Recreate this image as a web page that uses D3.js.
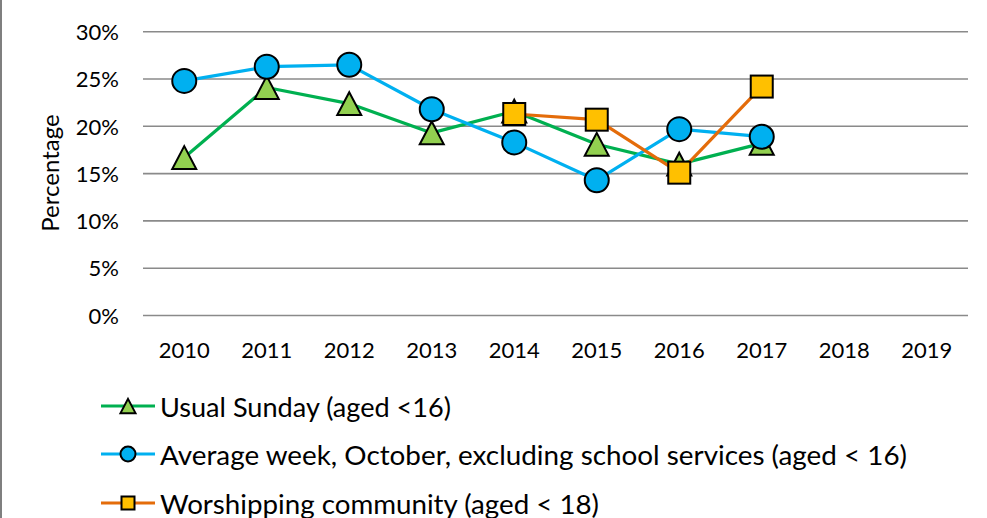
<!DOCTYPE html>
<html>
<head>
<meta charset="utf-8">
<script src="https://cdn.jsdelivr.net/npm/d3@7"></script>
<style>
  html, body { margin: 0; padding: 0; background: #fff; }
  svg { display: block; }
  text { font-family: "Lato", "Open Sans", sans-serif; fill: #000; }
</style>
</head>
<body>
<svg id="chart" width="987" height="518"></svg>
<script>
// Share of attendance made up of children/young people, by year
const years = ["2010", "2011", "2012", "2013", "2014", "2015", "2016", "2017", "2018", "2019"];
const usualSunday = [16.7, 24.1, 22.4, 19.3, 21.6, 18.1, 16.0, 18.2, null, null];
const averageWeek = [24.8, 26.3, 26.5, 21.8, 18.3, 14.3, 19.7, 18.9, null, null];
const worshipping = [null, null, null, null, 21.3, 20.7, 15.1, 24.2, null, null];
const yTicks = [0, 5, 10, 15, 20, 25, 30];

const seriesNames = [
  "Usual Sunday (aged <16)",
  "Average week, October, excluding school services (aged < 16)",
  "Worshipping community (aged < 18)"
];

const series = [
  { name: seriesNames[0], values: usualSunday, line: "#00B050", fill: "#92D050", shape: "triangle", textLen: 291 },
  { name: seriesNames[1], values: averageWeek, line: "#00B0F0", fill: "#00B0F0", shape: "circle", textLen: 747 },
  { name: seriesNames[2], values: worshipping, line: "#E46C0A", fill: "#FFC000", shape: "square", textLen: 439 }
];

const svg = d3.select("#chart");
const plot = { left: 143, right: 968, top: 31.7, bottom: 315.5 };

const x = d3.scaleBand().domain(years).range([plot.left, plot.right]);
const y = d3.scaleLinear().domain([0, 30]).range([plot.bottom, plot.top]);

// left frame edge
svg.append("line")
  .attr("x1", 1).attr("x2", 1).attr("y1", 0).attr("y2", 518)
  .attr("stroke", "#555").attr("stroke-width", 1.5);

// horizontal gridlines
svg.append("g").selectAll("line").data(yTicks).join("line")
  .attr("x1", plot.left).attr("x2", plot.right)
  .attr("y1", d => y(d)).attr("y2", d => y(d))
  .attr("stroke", "#8a8a8a").attr("stroke-width", 1.6);

// y axis labels
const yAxis = d3.axisLeft(y).tickValues(yTicks).tickFormat(d => d + "%").tickSize(0).tickPadding(0);
const gy = svg.append("g").attr("transform", "translate(119,0)").call(yAxis);
gy.select(".domain").remove();
gy.selectAll("text").attr("font-size", 22).attr("font-family", "Lato, sans-serif").attr("fill", "#000").attr("dy", "0.35em");

// x axis labels
const xAxis = d3.axisBottom(x).tickSize(0).tickPadding(0);
const gx = svg.append("g").attr("transform", "translate(0,341)").call(xAxis);
gx.select(".domain").remove();
gx.selectAll("text").attr("font-size", 22).attr("font-family", "Lato, sans-serif").attr("fill", "#000").attr("dy", "0.75em");

// y axis title
svg.append("text")
  .attr("transform", "translate(59,173) rotate(-90)")
  .attr("text-anchor", "middle")
  .attr("font-size", 24)
  .text("Percentage");

const cx = d => x(d) + x.bandwidth() / 2;

function drawMarker(g, shape, px, py, size, s) {
  if (shape === "circle") {
    g.append("circle").attr("cx", px).attr("cy", py).attr("r", size / 2)
      .attr("fill", s.fill).attr("stroke", "#000").attr("stroke-width", 2);
  } else if (shape === "square") {
    g.append("rect").attr("x", px - size / 2).attr("y", py - size / 2)
      .attr("width", size).attr("height", size)
      .attr("fill", s.fill).attr("stroke", "#000").attr("stroke-width", 2);
  } else {
    const h = size * 0.95, w = size;
    g.append("path")
      .attr("d", `M${px},${py - h / 2}L${px + w / 2},${py + h / 2}L${px - w / 2},${py + h / 2}Z`)
      .attr("fill", s.fill).attr("stroke", "#000").attr("stroke-width", 2).attr("stroke-linejoin", "miter");
  }
}

// series lines
const line = d3.line()
  .defined(d => d.v != null)
  .x(d => cx(d.year))
  .y(d => y(d.v));

const linesG = svg.append("g");
series.forEach(s => {
  const pts = years.map((yr, i) => ({ year: yr, v: s.values[i] }));
  linesG.append("path").datum(pts)
    .attr("d", line)
    .attr("fill", "none")
    .attr("stroke", s.line)
    .attr("stroke-width", 3.2)
    .attr("stroke-linejoin", "round");
});

// series markers
const markersG = svg.append("g");
const markerSize = { circle: 24, square: 22, triangle: 24 };
series.forEach(s => {
  years.forEach((yr, i) => {
    const v = s.values[i];
    if (v == null) return;
    drawMarker(markersG, s.shape, cx(yr), y(v), markerSize[s.shape], s);
  });
});

// legend
const legendRows = [406, 454, 503];
const legendSize = { circle: 15, square: 13, triangle: 15 };
const legend = svg.append("g");
series.forEach((s, i) => {
  const ly = legendRows[i];
  legend.append("line")
    .attr("x1", 101).attr("x2", 155).attr("y1", ly).attr("y2", ly)
    .attr("stroke", s.line).attr("stroke-width", 3.2);
  drawMarker(legend, s.shape, 128, ly, legendSize[s.shape], s);
  legend.append("text")
    .attr("x", 160).attr("y", ly + 10.5)
    .attr("font-size", 27.5)
    .attr("textLength", s.textLen)
    .attr("lengthAdjust", "spacingAndGlyphs")
    .text(s.name);
});
</script>
</body>
</html>
